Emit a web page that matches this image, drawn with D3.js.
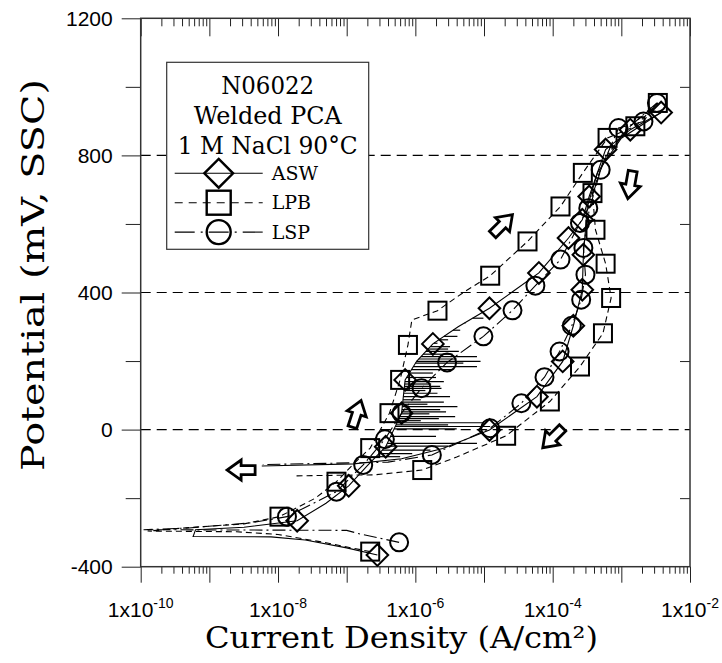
<!DOCTYPE html>
<html>
<head>
<meta charset="utf-8">
<script src="https://cdnjs.cloudflare.com/ajax/libs/d3/7.8.5/d3.min.js"></script>
<style>
  body { margin: 0; background: #fff; }
  svg { display: block; }
</style>
</head>
<body>
<svg id="chart" width="722" height="663"></svg>
<script>
// axis values
const xDecades = [1e-10, 1e-9, 1e-8, 1e-7, 1e-6, 1e-5, 1e-4, 1e-3, 1e-2];
const xLabelExponents = [-10, -8, -6, -4, -2];
const yMajorTicks = [-400, 0, 400, 800, 1200];
const yMinorTicks = [-200, 200, 600, 1000];
const gridPotentials = [0, 400, 800];

const legendTitle = ['N06022', 'Welded PCA', '1 M NaCl 90°C'];
const legendTitleWidths = [93, 148, 180];
const seriesNames = ['ASW', 'LPB', 'LSP'];

// [current A/cm2, potential mV, marker?]
const aswForward = [
    [2.8e-7, -366, 1], [1.0e-7, -345, 0], [2.5e-8, -322, 0], [7.9e-9, -313, 0], [5.8e-10, -312, 0],
    [6.3e-10, -292, 0], [3.2e-9, -285, 0], [1.9e-8, -266, 1], [5.0e-8, -215, 0], [1.07e-7, -164, 1],
    [2.0e-7, -105, 0], [3.7e-7, -50, 1], [6.3e-7, 48, 1], [7.1e-7, 145, 1], [1.05e-6, 200, 0],
    [1.8e-6, 250, 1], [4.2e-6, 300, 0], [1.2e-5, 354, 1], [6.3e-5, 457, 1], [1.7e-4, 559, 1],
    [2.7e-4, 612, 1], [3.4e-4, 680, 1], [4.5e-4, 750, 0], [5.9e-4, 817, 1], [1.35e-3, 875, 1],
    [3.8e-3, 925, 1]
];
const aswReverse = [
    [3.8e-3, 925, 0], [1.0e-3, 850, 0], [4.5e-4, 750, 0], [3.2e-4, 650, 0], [2.8e-4, 510, 1],
    [2.7e-4, 408, 1], [2.0e-4, 303, 1], [1.4e-4, 199, 1], [5.9e-5, 96, 1], [1.2e-5, -1, 1],
    [2.5e-6, -55, 0], [6.3e-7, -85, 0], [1.26e-7, -100, 0], [5.8e-9, -106, 0]
];
const lpbForward = [
    [2.2e-7, -356, 1], [5.0e-8, -330, 0], [1.0e-8, -306, 0], [2.5e-9, -298, 0], [1.26e-10, -296, 0],
    [5.0e-10, -286, 0], [3.2e-9, -275, 0], [1.05e-8, -254, 1], [3.5e-8, -200, 0], [7.1e-8, -152, 1],
    [1.26e-7, -100, 0], [2.2e-7, -54, 1], [4.2e-7, 48, 1], [6.0e-7, 145, 1], [7.8e-7, 247, 1],
    [8.9e-7, 320, 0], [2.1e-6, 347, 1], [5.0e-6, 400, 0], [1.23e-5, 449, 1], [4.3e-5, 549, 1],
    [1.3e-4, 651, 1], [2.75e-4, 749, 1], [6.3e-4, 851, 1], [1.6e-3, 885, 1], [3.4e-3, 953, 1]
];
const lpbReverse = [
    [3.4e-3, 953, 0], [1.26e-3, 880, 0], [5.6e-4, 790, 0], [3.8e-4, 690, 1], [4.2e-4, 583, 1],
    [5.9e-4, 484, 1], [7.1e-4, 384, 1], [5.4e-4, 281, 1], [2.5e-4, 184, 1], [9.1e-5, 82, 1],
    [2.1e-5, -18, 1], [4.0e-6, -80, 0], [1.26e-6, -118, 1], [2.5e-7, -132, 0], [1.66e-8, -135, 0]
];
const lspForward = [
    [5.8e-7, -329, 1], [1.6e-7, -305, 0], [1.0e-7, -294, 0], [1.1e-10, -292, 0], [5.0e-10, -287, 0],
    [4.0e-9, -272, 0], [1.35e-8, -254, 1], [7.1e-8, -181, 1], [1.74e-7, -103, 1], [3.6e-7, -28, 1],
    [6.3e-7, 48, 1], [1.23e-6, 121, 1], [2.9e-6, 196, 1], [9.8e-6, 272, 1], [2.6e-5, 348, 1],
    [5.6e-5, 420, 1], [1.3e-4, 496, 1], [2.5e-4, 603, 1], [3.3e-4, 646, 1], [5.0e-4, 758, 1],
    [9.1e-4, 880, 1], [2.1e-3, 899, 1], [3.3e-3, 953, 1]
];
const lspReverse = [
    [3.3e-3, 953, 0], [1.1e-3, 870, 0], [5.2e-4, 770, 0], [3.4e-4, 640, 0], [2.8e-4, 530, 1],
    [3.0e-4, 452, 1], [2.6e-4, 379, 1], [1.9e-4, 303, 1], [1.26e-4, 228, 1], [7.6e-5, 153, 1],
    [3.5e-5, 77, 1], [1.23e-5, 4, 1], [1.74e-6, -74, 1], [4.0e-7, -95, 0], [6.0e-9, -102, 0]
];

// metastable pitting transients on the forward scans: [potential mV, peak current]
const pitSpikes = [
    [-79, 6.0e-7], [-70, 9.0e-7], [-60, 1.66e-6], [-48, 3.0e-6], [-40, 7.9e-6], [-20, 2.0e-6],
    [2, 4.0e-6], [9, 1.23e-5], [14, 3.0e-6], [20, 9.8e-6], [26, 1.2e-6], [32, 2.2e-6],
    [38, 3.8e-6], [46, 1.6e-6], [52, 2.8e-6], [58, 2.3e-6], [67, 4.1e-6], [74, 1.5e-6],
    [80, 2.6e-6], [87, 1.2e-6], [96, 3.2e-6], [106, 2.1e-6], [114, 1.4e-6], [120, 2.4e-6],
    [126, 2.3e-6], [133, 1.7e-6], [140, 2.6e-6], [152, 2.0e-6], [165, 1.8e-6], [175, 3.4e-6],
    [184, 7.9e-6], [194, 5.0e-6], [199, 8.9e-6], [206, 4.0e-6], [213, 7.9e-6], [220, 3.5e-6],
    [228, 4.3e-6], [235, 3.0e-6], [242, 3.2e-6], [252, 2.1e-6], [262, 3.0e-6], [272, 4.1e-6],
    [290, 4.5e-6], [311, 5.4e-6], [325, 9.8e-6]
];

// scan direction arrows: [current, potential, direction deg]
const scanArrows = [
    [2.9e-9, -118, 180], [1.4e-7, 46, -72], [1.86e-5, 598, -45], [1.0e-4, -24, 135], [1.35e-3, 714, 100]
];

const width = 722, height = 663;
const margins = { top: 18.3, right: 32, bottom: 96.3, left: 140.7 };
const plotRight = width - margins.right;
const plotBottom = height - margins.bottom;

const translate = (x, y) => `translate(${x}, ${y})`;

const svg = d3.select('#chart');

const x = d3.scaleLog().domain([1e-10, 1e-2]).range([margins.left, plotRight]);
const y = d3.scaleLinear().domain([-400, 1200]).range([plotBottom, margins.top]);

const minorX = [];
for (let e = -10; e < -2; e++) {
    for (let k = 2; k <= 9; k++) minorX.push(k * Math.pow(10, e));
}

const tickFont = '"Liberation Sans", Arial, sans-serif';
const serifFont = '"DejaVu Serif", serif';
const ink = '#000';

const styleAxis = g => {
    g.select('.domain').remove();
    g.selectAll('.tick line').attr('stroke', '#222').attr('stroke-width', 1);
};

// gridlines
svg.append('g')
    .selectAll('line')
    .data(gridPotentials)
    .enter()
    .append('line')
    .attr('x1', margins.left).attr('x2', plotRight)
    .attr('y1', d => y(d)).attr('y2', d => y(d))
    .attr('stroke', ink).attr('stroke-width', 1.1)
    .attr('stroke-dasharray', '10,6');

// bottom axis (outside ticks)
svg.append('g').attr('transform', translate(0, plotBottom))
    .call(d3.axisBottom(x).tickValues(minorX).tickSize(7).tickFormat(''))
    .call(styleAxis);
svg.append('g').attr('transform', translate(0, plotBottom))
    .call(d3.axisBottom(x).tickValues(xDecades).tickSize(16).tickFormat(''))
    .call(styleAxis);

// top axis (inside ticks)
svg.append('g').attr('transform', translate(0, margins.top))
    .call(d3.axisBottom(x).tickValues(minorX).tickSize(8).tickFormat(''))
    .call(styleAxis);
svg.append('g').attr('transform', translate(0, margins.top))
    .call(d3.axisBottom(x).tickValues(xDecades).tickSize(18).tickFormat(''))
    .call(styleAxis);

// left axis
svg.append('g').attr('transform', translate(margins.left, 0))
    .call(d3.axisLeft(y).tickValues(yMinorTicks).tickSize(15).tickFormat(''))
    .call(styleAxis);
svg.append('g').attr('transform', translate(margins.left, 0))
    .call(d3.axisLeft(y).tickValues(yMajorTicks).tickSize(19).tickPadding(9).tickFormat(d => String(d)))
    .call(styleAxis)
    .call(g => g.selectAll('text')
        .attr('fill', ink)
        .style('font-family', tickFont)
        .style('font-size', '21px'));

// right axis (inside ticks)
svg.append('g').attr('transform', translate(plotRight, 0))
    .call(d3.axisRight(y).tickValues(yMinorTicks).tickSize(-10).tickFormat(''))
    .call(styleAxis);

// x tick labels 1x10^n
const xLabels = svg.append('g')
    .selectAll('text')
    .data(xLabelExponents)
    .enter()
    .append('text')
    .attr('x', d => x(Math.pow(10, d)))
    .attr('y', 617)
    .attr('text-anchor', 'middle')
    .style('font-family', tickFont)
    .style('font-size', '21px')
    .attr('fill', ink);
xLabels.append('tspan').text('1x10');
xLabels.append('tspan').attr('dy', -9).style('font-size', '14px').text(d => d);

// frame
svg.append('rect')
    .attr('x', margins.left).attr('y', margins.top)
    .attr('width', plotRight - margins.left)
    .attr('height', plotBottom - margins.top)
    .attr('fill', 'none').attr('stroke', '#333').attr('stroke-width', 1.5);

// axis titles
svg.append('text')
    .attr('x', 205).attr('y', 648)
    .attr('textLength', 393).attr('lengthAdjust', 'spacingAndGlyphs')
    .style('font-family', serifFont).style('font-size', '30px')
    .attr('fill', ink)
    .text('Current Density (A/cm²)');
svg.append('text')
    .attr('transform', translate(44, 471) + ' rotate(-90)')
    .attr('textLength', 392).attr('lengthAdjust', 'spacingAndGlyphs')
    .style('font-family', serifFont).style('font-size', '31px')
    .attr('fill', ink)
    .text('Potential (mV, SSC)');

// series
const line = d3.line().x(d => x(d[0])).y(d => y(d[1]));
const series = [
    { name: seriesNames[0], paths: [aswForward, aswReverse], dash: null, shape: 'diamond' },
    { name: seriesNames[1], paths: [lpbForward, lpbReverse], dash: '6,4', shape: 'square' },
    { name: seriesNames[2], paths: [lspForward, lspReverse], dash: '13,4,2,4', shape: 'circle' }
];

const plot = svg.append('g').attr('id', 'curves');

// pitting transients, drawn from the ASW forward branch
const anodic = aswForward.filter(d => d[1] >= -266);
const baseLog = d3.scaleLinear()
    .domain(anodic.map(d => d[1]))
    .range(anodic.map(d => Math.log10(d[0])));
plot.append('g')
    .selectAll('line')
    .data(pitSpikes)
    .enter()
    .append('line')
    .attr('x1', d => x(Math.pow(10, baseLog(d[0]))))
    .attr('x2', d => x(d[1]))
    .attr('y1', d => y(d[0])).attr('y2', d => y(d[0]))
    .attr('stroke', ink).attr('stroke-width', 1.2);

series.forEach(s => {
    s.paths.forEach(p => {
        plot.append('path')
            .datum(p)
            .attr('d', line)
            .attr('fill', 'none')
            .attr('stroke', ink)
            .attr('stroke-width', 1.1)
            .attr('stroke-dasharray', s.dash);
    });
});

const drawMarker = (g, shape, size) => {
    if (shape === 'circle') {
        g.append('circle').attr('r', size / 2);
    } else if (shape === 'square') {
        g.append('rect').attr('x', -size / 2).attr('y', -size / 2).attr('width', size).attr('height', size);
    } else {
        const h = size * 0.6;
        g.append('path').attr('d', `M0,${-h}L${h},0L0,${h}L${-h},0Z`);
    }
};

series.forEach(s => {
    const pts = s.paths.flat().filter(d => d[2] === 1);
    plot.append('g')
        .selectAll('g')
        .data(pts)
        .enter()
        .append('g')
        .attr('transform', d => translate(x(d[0]), y(d[1])))
        .attr('fill', 'none').attr('stroke', ink).attr('stroke-width', 2)
        .each(function () { drawMarker(d3.select(this), s.shape, 18); });
});

// scan direction arrows
const arrowPath = 'M-14,-4.5L0,-4.5L0,-10L14,0L0,10L0,4.5L-14,4.5Z';
svg.append('g')
    .selectAll('path')
    .data(scanArrows)
    .enter()
    .append('path')
    .attr('d', arrowPath)
    .attr('transform', d => translate(x(d[0]), y(d[1])) + ` rotate(${d[2]})`)
    .attr('fill', '#fff').attr('stroke', ink).attr('stroke-width', 2.8)
    .attr('stroke-linejoin', 'miter');

// legend
const legend = svg.append('g').attr('transform', translate(166.7, 62.3));
legend.append('rect')
    .attr('width', 202).attr('height', 187)
    .attr('fill', '#fff').attr('stroke', '#333').attr('stroke-width', 1.2);
legend.selectAll('text.title')
    .data(legendTitle)
    .enter()
    .append('text')
    .attr('class', 'title')
    .attr('x', (d, i) => 101 - legendTitleWidths[i] / 2)
    .attr('y', (d, i) => 31.5 + i * 30)
    .attr('textLength', (d, i) => legendTitleWidths[i])
    .attr('lengthAdjust', 'spacingAndGlyphs')
    .style('font-family', serifFont).style('font-size', '24px')
    .attr('fill', ink)
    .text(d => d);

const entries = legend.selectAll('g.entry')
    .data(series)
    .enter()
    .append('g')
    .attr('class', 'entry')
    .attr('transform', (d, i) => translate(0, 111 + i * 29.4));
entries.append('line')
    .attr('x1', 8).attr('x2', 96)
    .attr('stroke', ink).attr('stroke-width', 1.1)
    .attr('stroke-dasharray', d => d.dash ? (d.shape === 'square' ? '8,6' : '20,6,2,6') : null);
entries.append('g')
    .attr('transform', translate(52, 0))
    .attr('fill', 'none').attr('stroke', ink).attr('stroke-width', 2.4)
    .each(function (d) { drawMarker(d3.select(this), d.shape, 24); });
entries.append('text')
    .attr('x', 105).attr('y', 6.5)
    .style('font-family', serifFont).style('font-size', '19px')
    .attr('fill', ink)
    .text(d => d.name);
</script>
</body>
</html>
